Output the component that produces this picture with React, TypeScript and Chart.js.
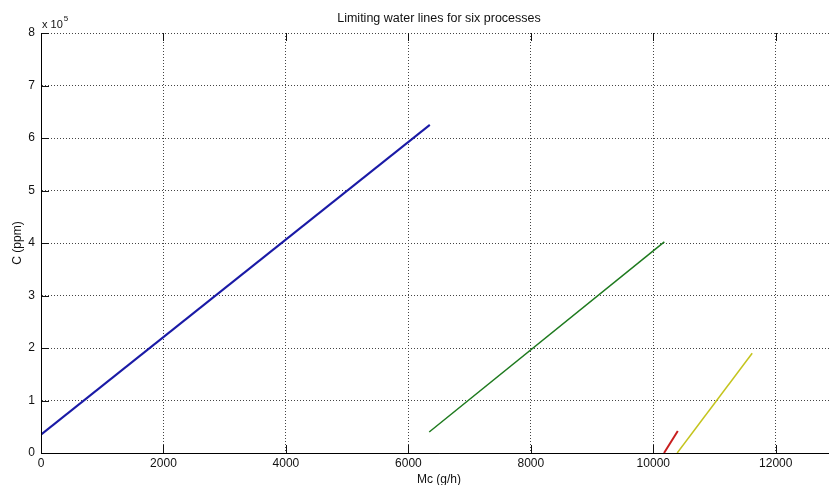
import React, { useEffect, useRef } from "react";
import { Chart, registerables } from "chart.js";

Chart.register(...registerables);

// ---- Text ----
const titleText = "Limiting water lines for six processes";
const xAxisLabel = "Mc (g/h)";
const yAxisLabel = "C (ppm)";
const yMultiplierBase = "x 10";
const yMultiplierExp = "5";

// ---- Axes ----
const xMin = 0;
const xMax = 13000;
const yMin = 0;
const yMax = 800000;
const xTicks = [0, 2000, 4000, 6000, 8000, 10000, 12000];
const xTickLabels = ["0", "2000", "4000", "6000", "8000", "10000", "12000"];
const yTicks = [0, 100000, 200000, 300000, 400000, 500000, 600000, 700000, 800000];
const yTickLabels = ["0", "1", "2", "3", "4", "5", "6", "7", "8"];

// ---- Series (Mc in g/h, C in ppm) ----
const process1Mc = [0, 6350];
const process1C = [35000, 625000];
const process2Mc = [6340, 10180];
const process2C = [40000, 402000];
const process3Mc = [10175, 10400];
const process3C = [0, 42000];
const process4Mc = [10390, 11615];
const process4C = [0, 190000];

const seriesColors = ["#1a1aa6", "#1e7a1e", "#c81e1e", "#c4c41e"];
const seriesWidths = [2, 1.5, 2, 1.5];

const FONT = "'Liberation Sans', Arial, Helvetica, sans-serif";

const toPoints = (xs: number[], ys: number[]) => xs.map((x, i) => ({ x, y: ys[i] }));

const innerTicksPlugin = {
  id: "innerTicks",
  afterDraw(chart: any) {
    const ctx = chart.ctx;
    const area = chart.chartArea;
    const xs = chart.scales.x;
    const ys = chart.scales.y;
    const len = 8;
    ctx.save();
    ctx.strokeStyle = "#111";
    ctx.lineWidth = 1;
    ctx.setLineDash([]);
    ctx.beginPath();
    xTicks.forEach((v) => {
      const px = Math.round(xs.getPixelForValue(v)) + 0.5;
      ctx.moveTo(px, area.bottom);
      ctx.lineTo(px, area.bottom - len);
      ctx.moveTo(px, area.top);
      ctx.lineTo(px, area.top + len);
    });
    yTicks.forEach((v) => {
      const py = Math.round(ys.getPixelForValue(v)) + 0.5;
      ctx.moveTo(area.left, py);
      ctx.lineTo(area.left + len, py);
    });
    ctx.stroke();
    // solid axis lines (left and bottom)
    ctx.beginPath();
    ctx.strokeStyle = "#000";
    const lx = Math.round(area.left) + 0.5;
    const by = Math.round(area.bottom) + 0.5;
    ctx.moveTo(lx, area.top);
    ctx.lineTo(lx, by);
    ctx.lineTo(area.right, by);
    ctx.stroke();
    // multiplier label
    ctx.fillStyle = "#111";
    ctx.textAlign = "left";
    ctx.textBaseline = "alphabetic";
    ctx.font = `11px ${FONT}`;
    const baseX = area.left + 1;
    const baseY = area.top - 5;
    ctx.fillText(yMultiplierBase, baseX, baseY);
    const w = ctx.measureText(yMultiplierBase).width;
    ctx.font = `8px ${FONT}`;
    ctx.fillText(yMultiplierExp, baseX + w + 1, baseY - 7);
    ctx.restore();
  },
};

export default function App() {
  const canvasRef = useRef<HTMLCanvasElement | null>(null);

  useEffect(() => {
    const canvas = canvasRef.current;
    if (!canvas) return;
    const gridOpts = {
      color: "#444",
      lineWidth: 1,
      drawTicks: false,
    };
    const chart = new Chart(canvas, {
      type: "scatter",
      data: {
        datasets: [
          { data: toPoints(process1Mc, process1C) },
          { data: toPoints(process2Mc, process2C) },
          { data: toPoints(process3Mc, process3C) },
          { data: toPoints(process4Mc, process4C) },
        ].map((d, i) => ({
          ...d,
          showLine: true,
          borderColor: seriesColors[i],
          backgroundColor: seriesColors[i],
          borderWidth: seriesWidths[i],
          pointRadius: 0,
          pointHoverRadius: 0,
          tension: 0,
          fill: false,
        })),
      },
      options: {
        responsive: false,
        animation: false,
        devicePixelRatio: 1,
        layout: { padding: { left: 0, right: 13, top: 0, bottom: 0 } },
        plugins: {
          legend: { display: false },
          tooltip: { enabled: false },
          title: {
            display: true,
            text: titleText,
            fullSize: false,
            color: "#111",
            font: { family: FONT, size: 12.5, weight: "normal", lineHeight: 1.2 },
            padding: { top: 11, bottom: 7 },
          },
        },
        scales: {
          x: {
            type: "linear",
            min: xMin,
            max: xMax,
            afterBuildTicks: (scale: any) => {
              scale.ticks = xTicks.map((v) => ({ value: v }));
            },
            afterFit: (scale: any) => {
              scale.height = 47;
            },
            grid: gridOpts as any,
            border: { display: true, color: "#000", width: 1, dash: [1, 2] } as any,
            ticks: {
              color: "#111",
              padding: 3,
              maxRotation: 0,
              autoSkip: false,
              font: { family: FONT, size: 12 },
              callback: (_v: any, i: number) => xTickLabels[i],
            },
            title: {
              display: true,
              text: xAxisLabel,
              color: "#111",
              font: { family: FONT, size: 12 },
              padding: { top: 0, bottom: 12.8 },
            },
          },
          y: {
            type: "linear",
            min: yMin,
            max: yMax,
            afterBuildTicks: (scale: any) => {
              scale.ticks = yTicks.map((v) => ({ value: v }));
            },
            afterFit: (scale: any) => {
              scale.width = 41;
            },
            grid: gridOpts as any,
            border: { display: true, color: "#000", width: 1, dash: [1, 2] } as any,
            ticks: {
              color: "#111",
              padding: 6,
              autoSkip: false,
              font: { family: FONT, size: 12 },
              callback: (_v: any, i: number) => yTickLabels[i],
            },
            title: {
              display: true,
              text: yAxisLabel,
              color: "#111",
              font: { family: FONT, size: 12 },
              padding: { top: 10.3, bottom: 0 },
            },
          },
        },
      },
      plugins: [innerTicksPlugin],
    } as any);
    return () => chart.destroy();
  }, []);

  return (
    <div
      style={{
        position: "fixed",
        left: 0,
        top: 0,
        width: 829,
        height: 485,
        overflow: "hidden",
        background: "#fff",
      }}
    >
      <canvas ref={canvasRef} width={850} height={500} style={{ display: "block" }} />
    </div>
  );
}
